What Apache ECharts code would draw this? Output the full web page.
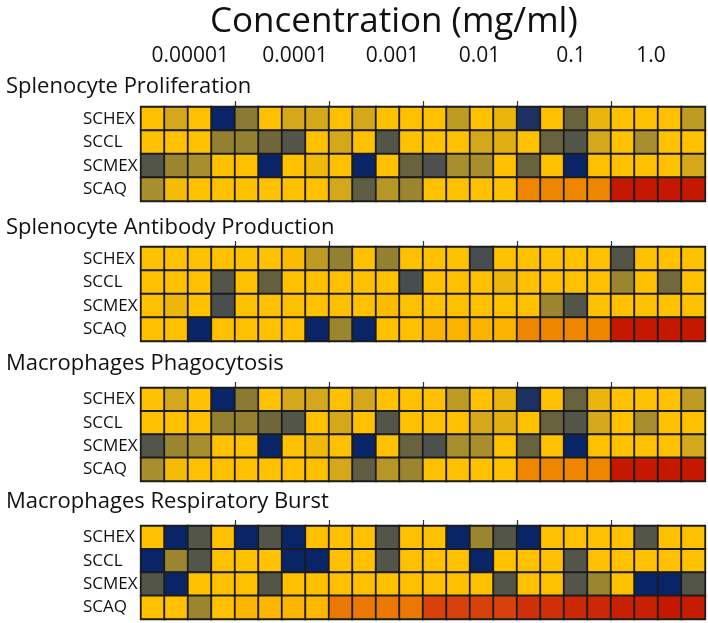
<!DOCTYPE html>
<html>
<head>
<meta charset="utf-8">
<script src="https://cdn.jsdelivr.net/npm/echarts@6/dist/echarts.min.js"></script>
<style>
html,body{margin:0;padding:0;background:#fff;}
#chart{width:708px;height:623px;}
</style>
</head>
<body>
<div id="chart"></div>
<script>
// ---- data ----
const rowNames = ['SCHEX', 'SCCL', 'SCMEX', 'SCAQ'];
const columns = Array.from({length: 24}, (_, i) => 'c' + (i + 1));
const concLabels = ['0.00001', '0.0001', '0.001', '0.01', '0.1', '1.0'];
const concLabelPos = [2.1, 6.55, 10.7, 14.4, 18.3, 21.7];
const groupTicks = [4, 8, 12, 16, 20];
const panelTitles = ['Splenocyte Proliferation', 'Splenocyte Antibody Production',
  'Macrophages Phagocytosis', 'Macrophages Respiratory Burst'];

// panel 1: Splenocyte Proliferation
const prolifSCHEX = [6,5,6,0,3.3,6,5,5,6,5,6,6,6,4.5,6,5.5,0.3,6,2.3,5.5,6,6,6,4.5];
const prolifSCCL  = [6,6,6,3.5,3.5,2.5,1.5,6,5,6,1.5,6,6,6,5,5.3,6,2.3,1.5,5,6,4,6,6];
const prolifSCMEX = [1.5,3.7,4,6,6,0,6,5.7,6,0,6,2.3,1.2,4,4,6,2.3,6,0,6,6,6,6,5];
const prolifSCAQ  = [4,5.8,6,6,6,6,6,6,5,2,4.3,3.7,6,6,6,6,8,8,8,8,10,10,10,10];
// panel 2: Splenocyte Antibody Production
const antibSCHEX = [6,6,6,6,6,6,6.2,4.5,3.5,6,3.5,6,6,6,1,6,6,6,6,6,1.5,6,6,6];
const antibSCCL  = [6,6,6,1.5,6,2.2,6,6,6,6,6,1,6,6,6,5.6,6,6,6,6,3.7,6,2.6,6];
const antibSCMEX = [6,5.6,6,1.1,6,6,6,6,6,6,6.2,6,6,6,6,6,6,3.7,1.5,6,6,6,6,6];
const antibSCAQ  = [6,6,0,6,6,6,6,0,3.7,0,6,6,6.5,6.5,6.5,6.5,8,8,8,8,10,10,10,10];
// panel 3: Macrophages Phagocytosis
const phagoSCHEX = [6,5,6,0,3.3,6,5,5,6,5,6,6,6,4.5,6,5.5,0.3,6,2.3,5.5,6,6,6,4.5];
const phagoSCCL  = [6,6,6,3.5,3.5,2.5,1.5,6,5,6,1.5,6,6,6,5,5.3,6,2.3,1.5,5,6,4,6,6];
const phagoSCMEX = [1.5,3.7,4,6,6,0,6,5.7,6,0,6,2.3,1.2,4,4,6,2.3,6,0,6,6,6,6,5];
const phagoSCAQ  = [4,5.8,6,6,6,6,6,6,5,2,4.3,3.7,6,6,6,6,8,8,8,8,10,10,10,10];
// panel 4: Macrophages Respiratory Burst
const burstSCHEX = [6,0,1.5,6,0,1.5,0,6,6,6,1.5,6,6,0,3.7,1.5,0,6,6,6,6,1.5,6,6];
const burstSCCL  = [0,3.7,1.5,6,6,6,0,0,6,6,1.5,6,6,6,0,6,6,6,1.5,6,6,6,6,6];
const burstSCMEX = [1.5,0,6,6,6,1.5,6,6,6,6,6,6,6,6,6,1.5,6,6,1.5,3.7,6,0,0,1.5];
const burstSCAQ  = [6,6,3.7,6,6.4,6.4,6.4,6.3,8.2,8.2,8.2,8.2,9,9,9,9,9.4,9.4,9.6,9.6,9.8,9.8,10,9.9];

const panels = [
  [prolifSCHEX, prolifSCCL, prolifSCMEX, prolifSCAQ],
  [antibSCHEX, antibSCCL, antibSCMEX, antibSCAQ],
  [phagoSCHEX, phagoSCCL, phagoSCMEX, phagoSCAQ],
  [burstSCHEX, burstSCCL, burstSCMEX, burstSCAQ]
];

// ---- layout / style ----
const FONT = 'Open Sans';
const gridTops = [107, 247, 388, 526];
const gridHeights = [94, 94, 93, 93];
const titleTops = [71, 212, 348, 486];
const colorScale = ['#0a2468','#474e50','#5e5c42','#7e7236','#a88e2c','#d4a81a',
  '#ffc000','#f7a600','#ee8600','#d8400c','#c41800'];

const chart = echarts.init(document.getElementById('chart'), null, {renderer: 'canvas'});

const grids = [], xAxes = [], yAxes = [], series = [], titles = [];
titles.push({
  text: 'Concentration (mg/ml)', left: 205, top: 0,
  textStyle: {fontFamily: FONT, fontSize: 35, fontWeight: 'normal', color: '#111'}
});
panels.forEach((rows, p) => {
  grids.push({left: 141, right: 3, top: gridTops[p], height: gridHeights[p]});
  titles.push({
    text: panelTitles[p], left: 1, top: titleTops[p],
    textStyle: {fontFamily: FONT, fontSize: 22, fontWeight: 'normal', color: '#111'}
  });
  // category axis for the cells
  xAxes.push({
    type: 'category', gridIndex: p, data: columns, position: 'bottom',
    axisLine: {show: false}, axisTick: {show: false}, axisLabel: {show: false},
    splitLine: {show: false}
  });
  // decorative top axis with group ticks and concentration labels
  xAxes.push({
    type: 'value', gridIndex: p, position: 'top', min: 0, max: 24,
    axisLine: {show: true, lineStyle: {color: '#aaa', width: 1}},
    splitLine: {show: false},
    axisTick: {show: true, customValues: groupTicks, length: 6, inside: false,
      lineStyle: {color: '#333', width: 1.2}},
    axisLabel: {
      show: p === 0, customValues: concLabelPos, margin: 40,
      fontFamily: FONT, fontSize: 21, color: '#111',
      formatter: v => {
        let best = 0;
        concLabelPos.forEach((q, i) => { if (Math.abs(q - v) < Math.abs(concLabelPos[best] - v)) best = i; });
        return concLabels[best];
      }
    }
  });
  yAxes.push({
    type: 'category', gridIndex: p, data: rowNames, inverse: true,
    axisLine: {show: false}, axisTick: {show: false}, splitLine: {show: false},
    axisLabel: {fontFamily: FONT, fontSize: 17, color: '#111', align: 'left', margin: 58}
  });
  const data = [];
  rows.forEach((vals, r) => vals.forEach((v, c) => data.push([c, r, v])));
  series.push({
    type: 'heatmap', xAxisIndex: p * 2, yAxisIndex: p, data: data,
    itemStyle: {borderColor: '#1c1c1c', borderWidth: 1.8},
    emphasis: {disabled: true}
  });
});

chart.setOption({
  backgroundColor: '#fff',
  animation: false,
  title: titles,
  grid: grids,
  xAxis: xAxes,
  yAxis: yAxes,
  visualMap: {
    show: false, type: 'continuous', min: 0, max: 10, dimension: 2,
    seriesIndex: [0, 1, 2, 3],
    inRange: {color: colorScale}
  },
  series: series
});
</script>
</body>
</html>
